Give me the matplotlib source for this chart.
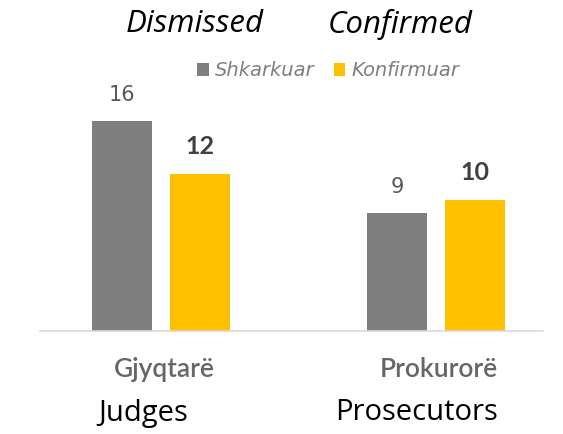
import matplotlib
matplotlib.use("Agg")
import matplotlib.pyplot as plt
import numpy as np

categories = ["Gjyqtarë", "Prokurorë"]
categories_en = ["Judges", "Prosecutors"]
series_names = ["Shkarkuar", "Konfirmuar"]
series_en = ["Dismissed", "Confirmed"]
dismissed = [16, 9]
confirmed = [12, 10]

W, H = 563, 434
fig = plt.figure(figsize=(W / 100, H / 100), dpi=100)
plt.rcParams["font.family"] = ["Lato", "DejaVu Sans"]

# axes placed in pixel terms
left, right, base, top = 40, 543, 331, 41
ax = fig.add_axes([left / W, (H - base) / H, (right - left) / W, (base - top) / H])
ax.set_ylim(0, (base - top) / 13.125)
ax.set_xlim(-0.441, 1.389)

x = np.arange(len(categories))
off = 0.1418
w = 0.218
b1 = ax.bar(x - off, dismissed, w, color="#7f7f7f", label=series_names[0])
b2 = ax.bar(x + off, confirmed, w, color="#ffc000", label=series_names[1])

for xi, v in zip(x - off, dismissed):
    ax.text(xi, v + 1.2, str(v), ha="center", va="bottom", fontsize=15,
            color="#595959", family=["DejaVu Sans"])
for xi, v in zip(x + off, confirmed):
    ax.text(xi, v + 1.2, str(v), ha="center", va="bottom", fontsize=18,
            color="#404040", fontweight="bold")

for s in ["top", "right", "left"]:
    ax.spines[s].set_visible(False)
ax.spines["bottom"].set_color("#d9d9d9")
ax.spines["bottom"].set_linewidth(1.2)
ax.set_yticks([])
ax.set_xticks(x + 0.01)
ax.set_xticklabels(categories, fontsize=19, color="#666666", fontweight="semibold")
ax.tick_params(axis="x", length=0, pad=19)

for xi, lab in zip([143, 417], categories_en):
    fig.text(xi / W, 1 - 413 / H, lab, ha="center", va="center", fontsize=21,
             family=["Open Sans", "DejaVu Sans"], color="black")

for xi, lab in zip([195, 400], series_en):
    fig.text(xi / W, 1 - 24 / H, lab, ha="center", va="center", fontsize=22.5,
             style="italic", family=["Open Sans", "DejaVu Sans"], color="black")

leg = fig.legend(handles=[b1, b2], loc="center", bbox_to_anchor=(328 / W, 1 - 71 / H),
                 ncol=2, frameon=False,
                 prop={"style": "italic", "size": 14, "family": ["DejaVu Sans"]},
                 handlelength=0.6, handleheight=0.6, handletextpad=0.3, columnspacing=1.0)
for t in leg.get_texts():
    t.set_color("#7f7f7f")

fig.savefig("out.png", dpi=100)
